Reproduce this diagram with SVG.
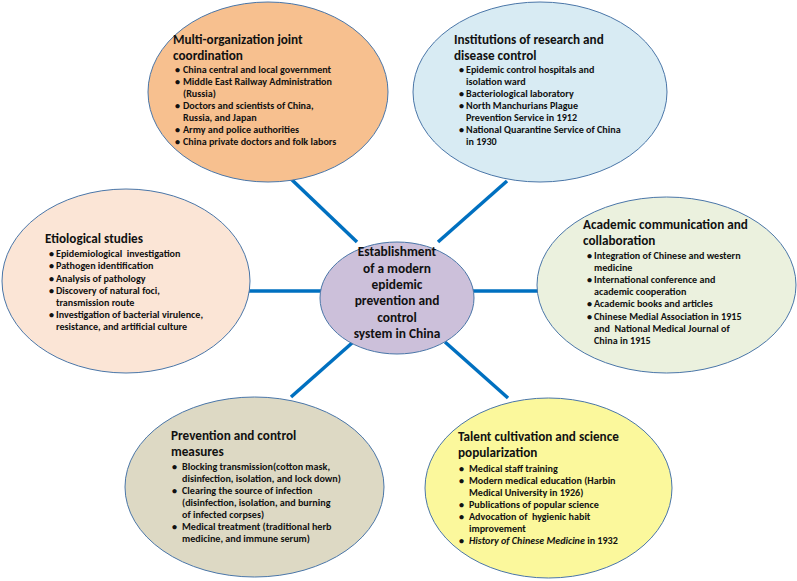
<svg xmlns="http://www.w3.org/2000/svg" width="797" height="581" viewBox="0 0 797 581">
<style>
  .bg { fill: #ffffff; }
  .node { stroke: #4A76A8; stroke-width: 1; }
  .conn { stroke: #0070C0; stroke-width: 3.5; fill: none; }
  text { font-family: "Carlito", "Lato", "Liberation Sans", sans-serif; font-weight: bold; fill: #111111; }
  .t { font-size: 13.2px; }
  .b { font-size: 10.1px; }
  .c { font-size: 13.4px; text-anchor: middle; }
  .i { font-style: italic; }
</style>
<rect class="bg" x="0" y="0" width="797" height="581"/>
<g id="connectors">
  <line class="conn" x1="290" y1="178" x2="357" y2="242"/>
  <line class="conn" x1="507" y1="181" x2="438" y2="242"/>
  <line class="conn" x1="248" y1="291" x2="322" y2="291"/>
  <line class="conn" x1="473" y1="291" x2="539" y2="291"/>
  <line class="conn" x1="352" y1="343" x2="291" y2="397"/>
  <line class="conn" x1="445" y1="342" x2="508" y2="398"/>
</g>
<g id="node-coordination">
  <ellipse class="node" cx="268" cy="92" rx="120" ry="90" fill="#F7C08F"/>
  <text class="t" x="173" y="44">Multi-organization joint</text>
  <text class="t" x="173" y="59.5">coordination</text>
  <text class="b" x="175" y="73">•</text><text class="b" x="183" y="73">China central and local government</text>
  <text class="b" x="175" y="85">•</text><text class="b" x="183" y="85">Middle East Railway Administration</text>
  <text class="b" x="183" y="97">(Russia)</text>
  <text class="b" x="175" y="109">•</text><text class="b" x="183" y="109">Doctors and scientists of China,</text>
  <text class="b" x="183" y="121">Russia, and Japan</text>
  <text class="b" x="175" y="133">•</text><text class="b" x="183" y="133">Army and police authorities</text>
  <text class="b" x="175" y="145">•</text><text class="b" x="183" y="145">China private doctors and folk labors</text>
</g>
<g id="node-institutions">
  <ellipse class="node" cx="540" cy="92" rx="127" ry="90" fill="#D8EBF3"/>
  <text class="t" x="454" y="44">Institutions of research and</text>
  <text class="t" x="454" y="59.5">disease control</text>
  <text class="b" x="459" y="73">•</text><text class="b" x="466" y="73">Epidemic control hospitals and</text>
  <text class="b" x="466" y="85">isolation ward</text>
  <text class="b" x="459" y="97">•</text><text class="b" x="466" y="97">Bacteriological laboratory</text>
  <text class="b" x="459" y="109">•</text><text class="b" x="466" y="109">North Manchurians Plague</text>
  <text class="b" x="466" y="121">Prevention Service in 1912</text>
  <text class="b" x="459" y="133">•</text><text class="b" x="466" y="133">National Quarantine Service of China</text>
  <text class="b" x="466" y="145">in 1930</text>
</g>
<g id="node-etiological">
  <ellipse class="node" cx="126" cy="281" rx="124" ry="92" fill="#FBE5D6"/>
  <text class="t" x="45" y="243">Etiological studies</text>
  <text class="b" x="49" y="257">•</text><text class="b" x="56" y="257" xml:space="preserve">Epidemiological  investigation</text>
  <text class="b" x="49" y="269">•</text><text class="b" x="56" y="269">Pathogen identification</text>
  <text class="b" x="49" y="282">•</text><text class="b" x="56" y="282">Analysis of pathology</text>
  <text class="b" x="49" y="294">•</text><text class="b" x="56" y="294">Discovery of natural foci,</text>
  <text class="b" x="56" y="306">transmission route</text>
  <text class="b" x="49" y="318">•</text><text class="b" x="56" y="318">Investigation of bacterial virulence,</text>
  <text class="b" x="56" y="330">resistance, and artificial culture</text>
</g>
<g id="node-center">
  <ellipse class="node" cx="397" cy="298" rx="77" ry="56" fill="#CCC0DA"/>
  <text class="c" x="397" y="256">Establishment</text>
  <text class="c" x="397" y="272.5">of a modern</text>
  <text class="c" x="397" y="289">epidemic</text>
  <text class="c" x="397" y="305">prevention and</text>
  <text class="c" x="397" y="321.5">control</text>
  <text class="c" x="397" y="338">system in China</text>
</g>
<g id="node-academic">
  <ellipse class="node" cx="666.5" cy="285" rx="129.5" ry="88" fill="#EBF1DE"/>
  <text class="t" x="583" y="229">Academic communication and</text>
  <text class="t" x="583" y="245">collaboration</text>
  <text class="b" x="587" y="259">•</text><text class="b" x="594" y="259">Integration of Chinese and western</text>
  <text class="b" x="594" y="271">medicine</text>
  <text class="b" x="587" y="283">•</text><text class="b" x="594" y="283">International conference and</text>
  <text class="b" x="594" y="295">academic cooperation</text>
  <text class="b" x="587" y="307">•</text><text class="b" x="594" y="307">Academic books and articles</text>
  <text class="b" x="587" y="320">•</text><text class="b" x="594" y="320">Chinese Medial Association in 1915</text>
  <text class="b" x="594" y="332" xml:space="preserve">and  National Medical Journal of</text>
  <text class="b" x="594" y="344">China in 1915</text>
</g>
<g id="node-prevention">
  <ellipse class="node" cx="254.5" cy="487" rx="129.5" ry="90" fill="#DDD9C4"/>
  <text class="t" x="171" y="440">Prevention and control</text>
  <text class="t" x="171" y="455.5">measures</text>
  <text class="b" x="172" y="470">•</text><text class="b" x="182" y="470">Blocking transmission(cotton mask,</text>
  <text class="b" x="182" y="482">disinfection, isolation, and lock down)</text>
  <text class="b" x="172" y="494">•</text><text class="b" x="182" y="494">Clearing the source of infection</text>
  <text class="b" x="182" y="506">(disinfection, isolation, and burning</text>
  <text class="b" x="182" y="518">of infected corpses)</text>
  <text class="b" x="172" y="530">•</text><text class="b" x="182" y="530">Medical treatment (traditional herb</text>
  <text class="b" x="182" y="542">medicine, and immune serum)</text>
</g>
<g id="node-talent">
  <ellipse class="node" cx="548.5" cy="488" rx="123.5" ry="90" fill="#FBF89C"/>
  <text class="t" x="458" y="441">Talent cultivation and science</text>
  <text class="t" x="458" y="457">popularization</text>
  <text class="b" x="459" y="471.5">•</text><text class="b" x="469" y="471.5">Medical staff training</text>
  <text class="b" x="459" y="483.5">•</text><text class="b" x="469" y="483.5">Modern medical education (Harbin</text>
  <text class="b" x="469" y="495.5">Medical University in 1926)</text>
  <text class="b" x="459" y="507.5">•</text><text class="b" x="469" y="507.5">Publications of popular science</text>
  <text class="b" x="459" y="519.5">•</text><text class="b" x="469" y="519.5" xml:space="preserve">Advocation of  hygienic habit</text>
  <text class="b" x="469" y="531.5">improvement</text>
  <text class="b" x="459" y="543.5">•</text><text class="b" x="469" y="543.5"><tspan class="i">History of Chinese Medicine</tspan> in 1932</text>
</g>
</svg>
